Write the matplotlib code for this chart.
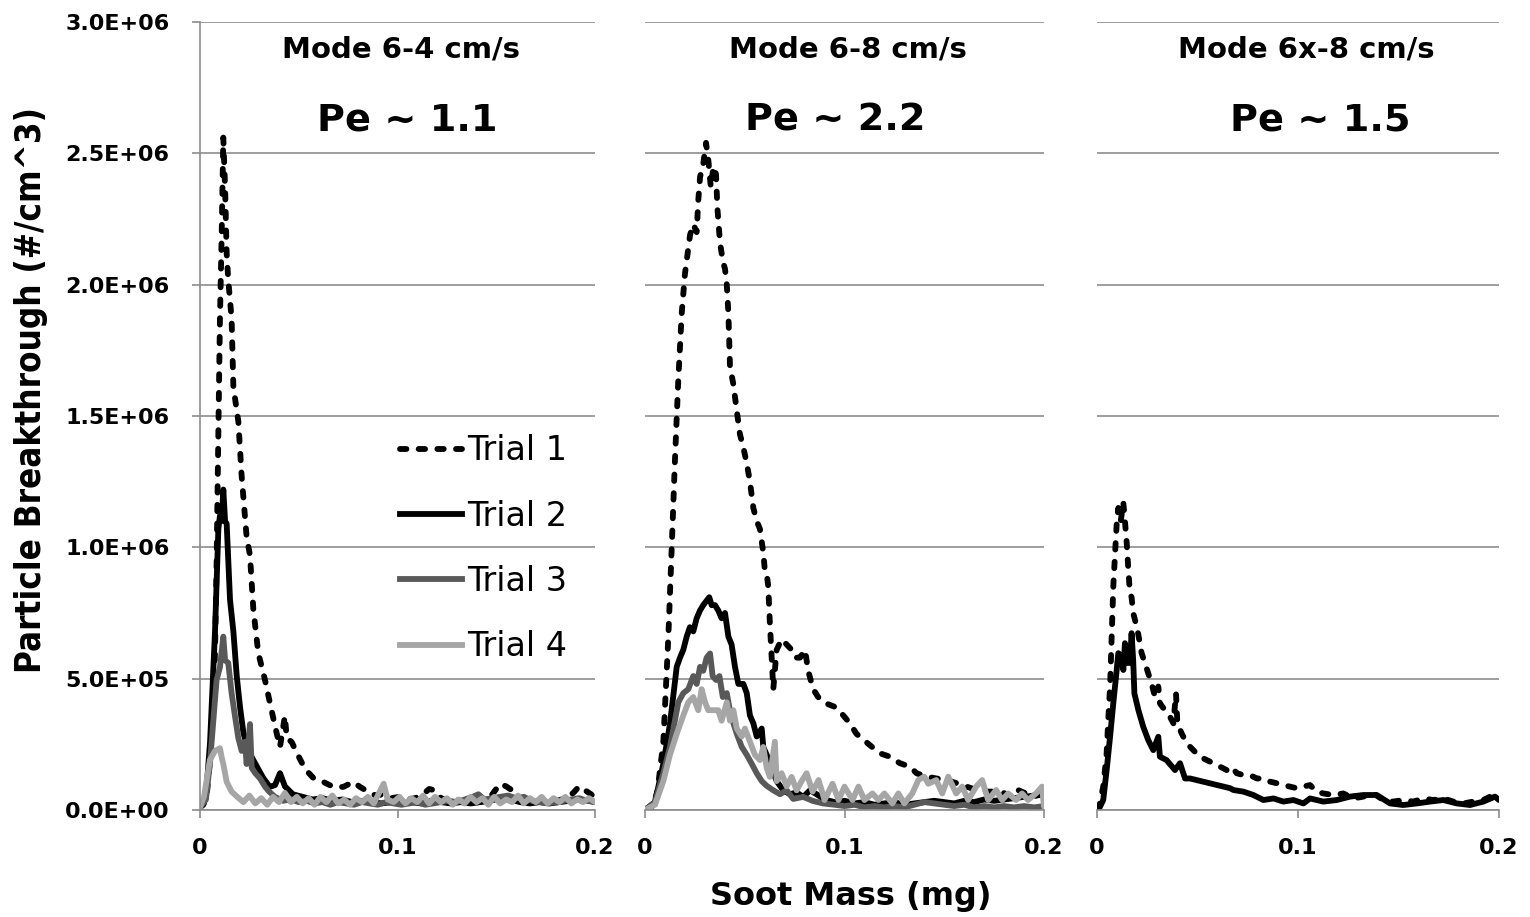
import matplotlib
matplotlib.use("Agg")
import matplotlib.pyplot as plt
from matplotlib import font_manager as fm
from matplotlib.font_manager import FontProperties
from matplotlib.lines import Line2D

# ---------------- data (y values in units of 1e5 particles/cm^3) ----------------
UNIT = 1e5

# Panel 1: Mode 6-4 cm/s
P1_T1 = [(0.0, 0.1), (0.0017, 0.2), (0.0034, 0.55), (0.0059, 2.59), (0.0076, 5.98), (0.0084, 9.37),
         (0.0093, 14.4), (0.0101, 18.7), (0.011, 22.0), (0.0118, 25.6), (0.0127, 23.7), (0.0135, 21.2),
         (0.0143, 20.2), (0.016, 18.7), (0.0169, 16.1), (0.0194, 14.8), (0.0211, 12.7), (0.0236, 10.4),
         (0.0253, 9.7), (0.027, 7.65), (0.0295, 5.98), (0.0329, 4.95), (0.0363, 3.77), (0.0388, 2.93),
         (0.0405, 2.40), (0.043, 3.58), (0.0439, 2.74), (0.0464, 2.59), (0.0498, 2.06), (0.0532, 1.56),
         (0.0574, 1.22), (0.0624, 1.07), (0.0675, 0.88), (0.0726, 0.88), (0.0776, 1.07), (0.081, 0.88),
         (0.085, 0.7), (0.089, 0.55), (0.093, 0.6), (0.097, 0.45), (0.101, 0.5), (0.105, 0.4),
         (0.109, 0.45), (0.113, 0.6), (0.116, 0.8), (0.119, 0.75), (0.122, 0.45), (0.126, 0.35),
         (0.13, 0.4), (0.134, 0.3), (0.138, 0.35), (0.142, 0.45), (0.146, 0.4), (0.149, 0.7),
         (0.152, 1.0), (0.155, 0.9), (0.158, 0.75), (0.161, 0.5), (0.165, 0.4), (0.169, 0.35),
         (0.173, 0.3), (0.177, 0.4), (0.181, 0.35), (0.185, 0.45), (0.189, 0.65), (0.192, 0.9),
         (0.195, 0.75), (0.198, 0.6), (0.2, 0.45)]
P1_T2 = [(0.0, 0.1), (0.003, 0.5), (0.0051, 2.59), (0.0076, 6.8), (0.0093, 10.7), (0.0101, 11.2),
         (0.011, 11.0), (0.0118, 12.2), (0.0127, 11.0), (0.0135, 10.9), (0.0152, 8.0), (0.0169, 6.8),
         (0.0186, 5.1), (0.0203, 3.9), (0.022, 2.93), (0.0245, 2.25), (0.027, 1.9), (0.0295, 1.56),
         (0.032, 1.22), (0.0354, 0.88), (0.038, 0.95), (0.0405, 1.4), (0.043, 0.9), (0.047, 0.6),
         (0.052, 0.5), (0.057, 0.4), (0.062, 0.45), (0.067, 0.35), (0.072, 0.4), (0.077, 0.3),
         (0.082, 0.35), (0.087, 0.3), (0.092, 0.25), (0.097, 0.3), (0.102, 0.25), (0.107, 0.3),
         (0.112, 0.25), (0.117, 0.35), (0.122, 0.3), (0.127, 0.25), (0.132, 0.3), (0.137, 0.25),
         (0.142, 0.3), (0.147, 0.35), (0.152, 0.45), (0.157, 0.4), (0.162, 0.3), (0.167, 0.25),
         (0.172, 0.3), (0.177, 0.25), (0.182, 0.3), (0.187, 0.35), (0.192, 0.4), (0.197, 0.35),
         (0.2, 0.3)]
P1_T3 = [(0.0, 0.1), (0.003, 0.4), (0.005, 1.75), (0.0084, 4.95), (0.0101, 5.44), (0.0118, 6.6),
         (0.0127, 5.7), (0.0143, 5.6), (0.016, 4.45), (0.0177, 3.58), (0.0194, 2.74), (0.0211, 2.25),
         (0.0228, 2.6), (0.0236, 1.75), (0.0253, 3.27), (0.0262, 1.6), (0.028, 1.4), (0.0304, 1.2),
         (0.033, 0.88), (0.035, 0.7), (0.038, 0.5), (0.042, 0.35), (0.046, 0.4), (0.05, 0.3),
         (0.054, 0.35), (0.058, 0.25), (0.062, 0.3), (0.066, 0.2), (0.07, 0.3), (0.074, 0.25),
         (0.078, 0.2), (0.082, 0.3), (0.086, 0.25), (0.09, 0.2), (0.094, 0.3), (0.098, 0.25),
         (0.102, 0.2), (0.106, 0.25), (0.11, 0.3), (0.114, 0.2), (0.118, 0.25), (0.122, 0.3),
         (0.126, 0.35), (0.13, 0.3), (0.134, 0.4), (0.138, 0.5), (0.141, 0.6), (0.144, 0.4),
         (0.148, 0.45), (0.152, 0.5), (0.156, 0.55), (0.16, 0.45), (0.164, 0.5), (0.168, 0.35),
         (0.172, 0.3), (0.176, 0.25), (0.18, 0.3), (0.184, 0.35), (0.188, 0.4), (0.192, 0.45),
         (0.196, 0.35), (0.2, 0.3)]
P1_T4 = [(0.0, 0.1), (0.002, 0.5), (0.005, 1.9), (0.0076, 2.25), (0.0101, 2.35), (0.011, 2.0),
         (0.0118, 1.75), (0.0135, 1.07), (0.016, 0.7), (0.019, 0.49), (0.022, 0.3), (0.025, 0.55),
         (0.028, 0.25), (0.031, 0.45), (0.034, 0.2), (0.037, 0.5), (0.04, 0.3), (0.043, 0.65),
         (0.046, 0.3), (0.049, 0.5), (0.052, 0.25), (0.055, 0.45), (0.058, 0.2), (0.061, 0.5),
         (0.064, 0.3), (0.067, 0.55), (0.07, 0.25), (0.073, 0.4), (0.076, 0.2), (0.079, 0.45),
         (0.082, 0.3), (0.085, 0.5), (0.088, 0.25), (0.091, 0.7), (0.093, 1.0), (0.095, 0.4),
         (0.098, 0.3), (0.101, 0.5), (0.104, 0.25), (0.107, 0.45), (0.11, 0.3), (0.113, 0.55),
         (0.116, 0.25), (0.119, 0.5), (0.122, 0.3), (0.125, 0.45), (0.128, 0.2), (0.131, 0.4),
         (0.134, 0.25), (0.137, 0.5), (0.14, 0.3), (0.143, 0.45), (0.146, 0.2), (0.149, 0.5),
         (0.152, 0.25), (0.155, 0.4), (0.158, 0.3), (0.161, 0.55), (0.164, 0.25), (0.167, 0.45),
         (0.17, 0.3), (0.173, 0.5), (0.176, 0.25), (0.179, 0.45), (0.182, 0.3), (0.185, 0.5),
         (0.188, 0.25), (0.191, 0.4), (0.194, 0.3), (0.197, 0.45), (0.2, 0.3)]

# Panel 2: Mode 6-8 cm/s
P2_T1 = [(0.0, 0.0), (0.004, 0.1), (0.0063, 0.75), (0.0092, 2.6), (0.0117, 6.6), (0.0134, 10.0),
         (0.015, 13.3), (0.0167, 16.4), (0.0184, 18.9), (0.02, 20.4), (0.0226, 21.9), (0.0242, 22.3),
         (0.0259, 22.0), (0.0267, 23.2), (0.0276, 24.1), (0.0292, 24.6), (0.0306, 25.4), (0.0318, 24.7),
         (0.033, 23.7), (0.0343, 24.5), (0.0356, 24.2), (0.0363, 22.9), (0.0376, 21.6), (0.039, 20.9),
         (0.0401, 20.6), (0.041, 20.0), (0.0418, 18.9), (0.0426, 16.9), (0.0443, 16.2), (0.046, 15.2),
         (0.0476, 14.3), (0.0493, 13.8), (0.051, 13.2), (0.0526, 12.5), (0.0543, 11.5), (0.056, 11.0),
         (0.0576, 10.7), (0.0593, 9.8), (0.0601, 9.1), (0.061, 9.0), (0.0618, 8.5), (0.0626, 7.1),
         (0.0635, 5.8), (0.0643, 4.6), (0.066, 6.1), (0.0685, 6.5), (0.071, 6.3), (0.0735, 6.1),
         (0.0752, 5.8), (0.0777, 5.8), (0.0802, 6.1), (0.0818, 5.3), (0.0843, 4.6), (0.0868, 4.3),
         (0.0893, 4.1), (0.0927, 4.0), (0.096, 3.9), (0.0994, 3.6), (0.1027, 3.3), (0.106, 2.9),
         (0.1127, 2.47), (0.1177, 2.16), (0.1227, 2.03), (0.1278, 1.78), (0.1328, 1.65), (0.1361, 1.40),
         (0.1411, 1.27), (0.1461, 1.2), (0.1512, 1.14), (0.1562, 1.02), (0.1612, 0.89), (0.1662, 0.76),
         (0.1712, 0.7), (0.178, 0.7), (0.1845, 0.51), (0.187, 0.76), (0.1945, 0.51), (0.2, 0.63)]
P2_T2 = [(0.0, 0.0), (0.005, 0.3), (0.0092, 1.76), (0.0125, 3.27), (0.0159, 5.45), (0.0175, 5.79),
         (0.0192, 6.1), (0.0209, 6.6), (0.0225, 6.96), (0.0242, 6.8), (0.0259, 7.3), (0.0276, 7.6),
         (0.0292, 7.8), (0.0309, 7.97), (0.0322, 8.1), (0.0334, 7.8), (0.0351, 7.8), (0.0367, 7.6),
         (0.0384, 7.3), (0.0401, 7.5), (0.0418, 6.6), (0.0434, 6.3), (0.0451, 5.45), (0.0468, 4.8),
         (0.0493, 4.8), (0.051, 4.45), (0.0526, 3.6), (0.0543, 3.3), (0.056, 2.8), (0.0585, 3.1),
         (0.0593, 2.4), (0.061, 2.1), (0.0626, 1.76), (0.066, 1.1), (0.0693, 0.75), (0.0727, 0.6),
         (0.076, 0.67), (0.0793, 0.5), (0.0827, 0.75), (0.086, 0.6), (0.09, 0.4), (0.095, 0.3),
         (0.1, 0.35), (0.105, 0.25), (0.11, 0.3), (0.115, 0.2), (0.12, 0.25), (0.125, 0.3),
         (0.13, 0.2), (0.135, 0.25), (0.14, 0.3), (0.145, 0.35), (0.15, 0.3), (0.155, 0.25),
         (0.16, 0.35), (0.165, 0.3), (0.17, 0.4), (0.175, 0.35), (0.18, 0.4), (0.185, 0.45),
         (0.19, 0.5), (0.195, 0.55), (0.2, 0.6)]
P2_T3 = [(0.0, 0.0), (0.005, 0.3), (0.0092, 1.4), (0.0125, 2.4), (0.0167, 4.1), (0.0192, 4.45),
         (0.0217, 4.6), (0.0242, 5.1), (0.0259, 4.8), (0.0276, 5.45), (0.0292, 5.3), (0.0309, 5.8),
         (0.0326, 5.96), (0.0339, 5.1), (0.0356, 4.95), (0.0373, 5.1), (0.039, 4.3), (0.041, 4.45),
         (0.0426, 3.78), (0.0443, 3.3), (0.046, 2.9), (0.0485, 2.4), (0.051, 2.1), (0.0535, 1.76),
         (0.056, 1.4), (0.0585, 1.1), (0.061, 0.92), (0.0643, 0.75), (0.0677, 0.6), (0.071, 0.75),
         (0.0743, 0.42), (0.0793, 0.5), (0.0843, 0.34), (0.0893, 0.25), (0.095, 0.2), (0.1, 0.15),
         (0.105, 0.2), (0.11, 0.1), (0.115, 0.15), (0.12, 0.1), (0.125, 0.15), (0.13, 0.1),
         (0.135, 0.2), (0.14, 0.3), (0.145, 0.25), (0.15, 0.2), (0.155, 0.15), (0.16, 0.2),
         (0.165, 0.1), (0.17, 0.15), (0.175, 0.1), (0.18, 0.15), (0.185, 0.1), (0.19, 0.15),
         (0.195, 0.1), (0.2, 0.15)]
P2_T4 = [(0.0, 0.0), (0.005, 0.2), (0.0092, 1.1), (0.0125, 2.1), (0.0159, 2.9), (0.0192, 3.6),
         (0.0217, 4.1), (0.0242, 4.3), (0.0267, 3.8), (0.0284, 4.6), (0.0301, 4.1), (0.0317, 3.8),
         (0.0343, 3.8), (0.0367, 3.8), (0.0384, 3.4), (0.041, 4.1), (0.0426, 3.4), (0.0443, 3.8),
         (0.046, 3.1), (0.0485, 2.8), (0.0501, 3.1), (0.0526, 2.6), (0.0551, 2.1), (0.0576, 1.9),
         (0.0593, 2.4), (0.061, 1.6), (0.0626, 1.26), (0.0651, 2.6), (0.066, 1.1), (0.0685, 1.4),
         (0.071, 0.9), (0.0735, 1.26), (0.076, 0.75), (0.0785, 1.1), (0.081, 1.4), (0.084, 0.7),
         (0.087, 1.14), (0.09, 0.38), (0.094, 1.0), (0.097, 0.38), (0.1, 0.89), (0.104, 0.38),
         (0.107, 0.89), (0.11, 0.38), (0.114, 0.63), (0.117, 0.38), (0.12, 0.63), (0.124, 0.25),
         (0.127, 0.63), (0.13, 0.25), (0.134, 0.63), (0.137, 1.14), (0.14, 1.27), (0.142, 1.0),
         (0.146, 1.14), (0.149, 0.63), (0.152, 1.27), (0.156, 0.63), (0.159, 0.89), (0.162, 0.38),
         (0.166, 0.89), (0.169, 1.14), (0.172, 0.38), (0.176, 0.76), (0.179, 0.38), (0.182, 0.63),
         (0.186, 0.38), (0.189, 0.63), (0.192, 0.38), (0.196, 0.63), (0.199, 0.89), (0.2, 0.13)]

# Panel 3: Mode 6x-8 cm/s
P3_T1 = [(0.0007, 0.0), (0.0031, 0.89), (0.0048, 2.16), (0.0056, 3.43), (0.0065, 4.7), (0.0073, 6.6),
         (0.0081, 8.5), (0.009, 9.78), (0.0098, 10.9), (0.0106, 11.5), (0.0118, 11.0), (0.0131, 11.7),
         (0.0139, 11.0), (0.0148, 10.15), (0.0156, 9.14), (0.0164, 8.25), (0.0172, 8.1), (0.018, 7.5),
         (0.0197, 7.0), (0.0205, 6.7), (0.0222, 5.97), (0.0239, 5.58), (0.0255, 5.2), (0.0272, 4.8),
         (0.0289, 4.3), (0.0305, 4.7), (0.0313, 4.06), (0.0338, 3.8), (0.0363, 3.55), (0.038, 3.3),
         (0.0393, 4.44), (0.04, 3.3), (0.0421, 2.92), (0.0446, 2.54), (0.0479, 2.28), (0.0512, 2.03),
         (0.0546, 1.9), (0.0579, 1.78), (0.0612, 1.65), (0.0645, 1.52), (0.067, 1.65), (0.0695, 1.4),
         (0.0728, 1.33), (0.0761, 1.33), (0.0795, 1.2), (0.0828, 1.2), (0.0861, 1.08), (0.0894, 1.02),
         (0.0927, 0.95), (0.096, 0.89), (0.0993, 0.83), (0.106, 0.95), (0.1093, 0.7), (0.1126, 0.63),
         (0.1176, 0.57), (0.1226, 0.63), (0.1276, 0.44), (0.1325, 0.51), (0.1375, 0.63), (0.1425, 0.38),
         (0.1474, 0.32), (0.1524, 0.38), (0.1574, 0.32), (0.1624, 0.44), (0.1673, 0.38), (0.1723, 0.44),
         (0.1773, 0.32), (0.1823, 0.25), (0.1872, 0.32), (0.1922, 0.38), (0.1972, 0.57), (0.2, 0.44)]
P3_T2 = [(0.0007, 0.0), (0.0031, 0.38), (0.0048, 1.52), (0.0065, 2.79), (0.0081, 4.06), (0.0098, 5.33),
         (0.0106, 5.97), (0.0123, 5.84), (0.0131, 5.33), (0.0139, 6.35), (0.015, 5.6), (0.0164, 5.6),
         (0.0172, 6.73), (0.018, 5.7), (0.0186, 4.44), (0.0206, 3.8), (0.023, 3.17), (0.0255, 2.66),
         (0.028, 2.28), (0.0305, 2.79), (0.0313, 2.03), (0.0346, 1.9), (0.0388, 1.52), (0.0413, 1.78),
         (0.0438, 1.2), (0.0463, 1.2), (0.0662, 0.83), (0.0679, 0.76), (0.0728, 0.7), (0.0778, 0.57),
         (0.0828, 0.38), (0.0878, 0.44), (0.0927, 0.32), (0.0977, 0.38), (0.1027, 0.25), (0.106, 0.44),
         (0.1126, 0.32), (0.1193, 0.38), (0.1259, 0.51), (0.1325, 0.57), (0.1392, 0.57), (0.1458, 0.25),
         (0.1524, 0.19), (0.1591, 0.25), (0.1657, 0.32), (0.1723, 0.38), (0.179, 0.25), (0.1856, 0.19),
         (0.1922, 0.32), (0.198, 0.51), (0.2, 0.38)]

PANELS = [[P1_T1, P1_T2, P1_T3, P1_T4], [P2_T1, P2_T2, P2_T3, P2_T4], [P3_T1, P3_T2]]
PANEL_TITLES = ["Mode 6-4 cm/s", "Mode 6-8 cm/s", "Mode 6x-8 cm/s"]
PECLET_LABELS = ["Pe ~ 1.1", "Pe ~ 2.2", "Pe ~ 1.5"]
TRIAL_LABELS = ["Trial 1", "Trial 2", "Trial 3", "Trial 4"]
Y_TICKS = [0.0, 0.5e6, 1.0e6, 1.5e6, 2.0e6, 2.5e6, 3.0e6]
Y_TICK_LABELS = ["0.0E+00", "5.0E+05", "1.0E+06", "1.5E+06", "2.0E+06", "2.5E+06", "3.0E+06"]
X_TICKS = [0.0, 0.1, 0.2]
X_TICK_LABELS = ["0", "0.1", "0.2"]
X_LABEL = "Soot Mass (mg)"
Y_LABEL = "Particle Breakthrough (#/cm^3)"

# ---------------- styling ----------------
W, H = 1530, 917
DPI = 100
GRID = "#8c8c8c"
STYLES = [dict(color="black", ls=(0, (1.1, 2.1)), dash_capstyle="round"),
          dict(color="black", ls="-"),
          dict(color="#595959", ls="-"),
          dict(color="#a6a6a6", ls="-")]
LW = 4.2

names = {f.name for f in fm.fontManager.ttflist}
if "Liberation Sans Narrow" in names:
    cond_fp = FontProperties(family="Liberation Sans Narrow", weight="bold", size=27)
else:
    path = None
    for f in fm.fontManager.ttflist:
        if "DejaVuSansCondensed-Bold.ttf" in f.fname:
            path = f.fname
    if path:
        cond_fp = FontProperties(fname=path, size=25)
    else:
        cond_fp = FontProperties(family="DejaVu Sans", weight="bold", size=24)

plt.rcParams["font.family"] = ["DejaVu Sans"]

fig = plt.figure(figsize=(W / DPI, H / DPI), dpi=DPI)

def fx(px):
    return px / W

def fy(py):
    return 1 - py / H

panel_px = [(200, 595), (645, 1044), (1097, 1499)]
top_px, bot_px = 22, 810

axes = []
for i, (l, r) in enumerate(panel_px):
    ax = fig.add_axes([fx(l), fy(bot_px), fx(r - l), fy(top_px) - fy(bot_px)])
    for j, series in enumerate(PANELS[i]):
        xs = [p[0] for p in series]
        ys = [p[1] * UNIT for p in series]
        st = STYLES[j]
        ax.plot(xs, ys, color=st["color"], linestyle=st["ls"], lw=LW,
                dash_capstyle=st.get("dash_capstyle", "butt"), solid_joinstyle="round",
                solid_capstyle="round", label=TRIAL_LABELS[j])
    ax.set_xlim(0, 0.2)
    ax.set_ylim(0, 3.0e6)
    ax.set_yticks(Y_TICKS)
    ax.set_xticks(X_TICKS)
    ax.set_xticklabels(X_TICK_LABELS, fontsize=16, fontweight="bold")
    ax.grid(axis="y", color=GRID, lw=1.2, zorder=0)
    ax.set_axisbelow(True)
    for s in ["top", "right"]:
        ax.spines[s].set_visible(False)
    ax.spines["bottom"].set_color(GRID)
    ax.spines["bottom"].set_linewidth(1.2)
    ax.tick_params(axis="x", direction="out", length=6, width=1.2, color=GRID, pad=14)
    if i == 0:
        ax.spines["left"].set_color(GRID)
        ax.spines["left"].set_linewidth(1.2)
        ax.set_yticklabels(Y_TICK_LABELS, fontsize=16, fontweight="bold")
        ax.tick_params(axis="y", direction="out", length=6, width=1.2, color=GRID, pad=16)
    else:
        ax.spines["left"].set_visible(False)
        ax.tick_params(axis="y", length=0, labelleft=False)
    ax.set_facecolor("none")
    axes.append(ax)

# panel titles
title_cx = [401, 848, 1306]
pe_cx = [407, 835, 1320]
for i in range(3):
    fig.text(fx(title_cx[i]), fy(58), PANEL_TITLES[i], ha="center", va="baseline",
             fontsize=21, fontweight="bold")
    fig.text(fx(pe_cx[i]), fy(131), PECLET_LABELS[i], ha="center", va="baseline",
             fontsize=27.5, fontweight="bold")

# axis labels
fig.text(fx(851), fy(905), X_LABEL, ha="center", va="baseline", fontsize=23, fontweight="bold")
fig.text(fx(31), fy(390), Y_LABEL, ha="center", va="center", rotation=90, fontproperties=cond_fp)

# legend
handles = [Line2D([], [], color=STYLES[j]["color"], linestyle=STYLES[j]["ls"], lw=LW,
                  dash_capstyle=STYLES[j].get("dash_capstyle", "butt")) for j in range(4)]
fs = 24
fs_px = fs * DPI / 72
axes[0].legend(handles, TRIAL_LABELS, loc="center left",
               bbox_to_anchor=(fx(400), fy(549)), bbox_transform=fig.transFigure,
               frameon=False, fontsize=fs, borderpad=0, borderaxespad=0,
               handlelength=62 / fs_px, handletextpad=5 / fs_px, labelspacing=0.97)

fig.savefig("out.png", dpi=DPI)
